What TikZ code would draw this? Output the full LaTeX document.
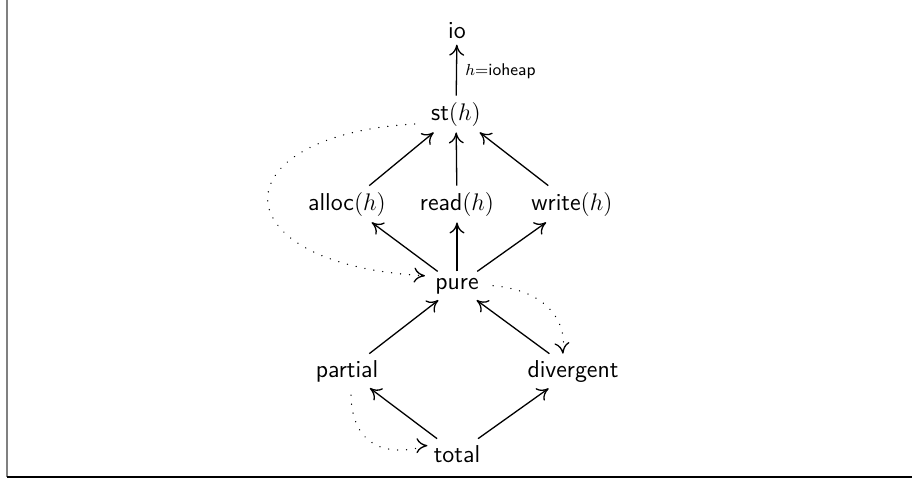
\documentclass[tikz,border=0pt]{standalone}
\usetikzlibrary{arrows.meta}
\begin{document}
\begin{tikzpicture}[x=0.5pt,y=-0.5pt,
  lbl/.style={font=\fontsize{12.2}{14}\selectfont\sffamily, inner sep=3pt, anchor=base},
  edgeline/.style={-{To[length=5.5pt,width=7.5pt]}, line width=0.65pt},
  dotarrow/.style={line width=0.65pt, dash pattern=on 0.1pt off 4.4pt, line cap=round},
  dottip/.style={-{To[length=5.5pt,width=7.5pt]}, line width=0.65pt}]
\useasboundingbox (0,0) rectangle (912,478);
\draw[gray, line width=1pt] (7,0) -- (7,477);
\draw[line width=1pt] (7,477) -- (912,477);
% nodes
\node[lbl] (io) at (457,38) {io};
\node[lbl] (st) at (456,120) {st$(h)$};
\node[lbl] (alloc) at (347,210) {alloc$(h)$};
\node[lbl] (read) at (457,210) {read$(h)$};
\node[lbl] (write) at (572,210) {write$(h)$};
\node[lbl] (pure) at (457,289) {pure};
\node[lbl] (partial) at (347,377) {partial};
\node[lbl] (divergent) at (573,377) {divergent};
\node[lbl] (total) at (457,462) {total};
\node[font=\fontsize{8.5}{10}\selectfont\sffamily, anchor=west, inner sep=0pt] (lab) at (465,71) {$h{=}$ioheap};
% edges
\draw[edgeline] (st) -- (io);
\draw[edgeline] (alloc) -- (st);
\draw[edgeline] (read) -- (st);
\draw[edgeline] (write) -- (st);
\draw[edgeline] (pure) -- (alloc);
\draw[edgeline] (pure) -- (read);
\draw[edgeline] (pure) -- (write);
\draw[edgeline] (partial) -- (pure);
\draw[edgeline] (divergent) -- (pure);
\draw[edgeline] (total) -- (partial);
\draw[edgeline] (total) -- (divergent);
% dotted
\coordinate (a1) at ([shift={(-10,10)}]st.west);
\coordinate (a2) at ([shift={(-4,-10)}]pure.west);
\draw[dotarrow] (a1) .. controls (217,135) and (217,265) .. (a2);
\draw[dottip] ([shift={(-3,-0.2)}]a2) -- (a2);
\coordinate (b1) at ([xshift=4]pure.east);
\coordinate (b2) at ([xshift=-5]divergent.north);
\draw[dotarrow] (b1) .. controls (545,290) and (568,320) .. (b2);
\draw[dottip] ([shift={(-0.3,-3)}]b2) -- (b2);
\coordinate (c1) at ([shift={(4,7)}]partial.south);
\coordinate (c2) at ([yshift=4]total.west);
\draw[dotarrow] (c1) .. controls (352,445) and (385,458) .. (c2);
\draw[dottip] ([shift={(-3,0)}]c2) -- (c2);
\end{tikzpicture}
\end{document}
